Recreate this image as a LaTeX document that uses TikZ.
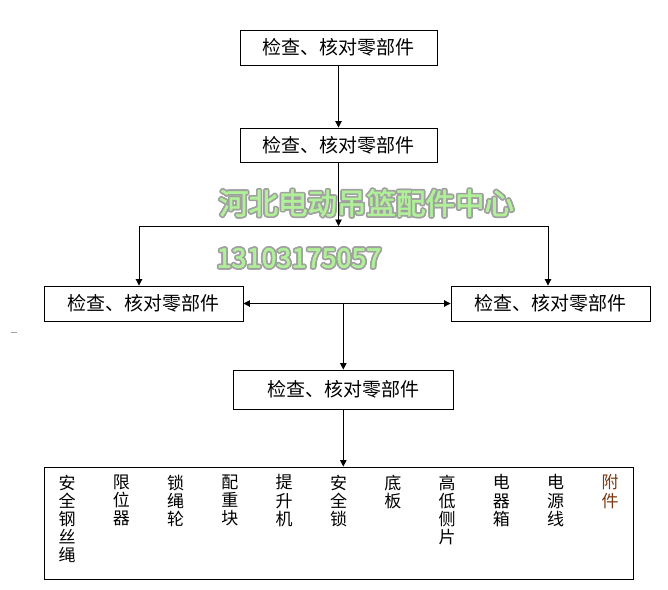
\documentclass[tikz,border=0pt]{standalone}
\usepackage{fontspec}
\setmainfont{Noto Sans CJK SC}
\newfontfamily\wmfont[FakeBold=2]{Noto Sans CJK SC}
\usetikzlibrary{arrows.meta}
\definecolor{wmgreen}{HTML}{B0F098}
\definecolor{wmgray}{HTML}{A0A0A0}
\definecolor{partbrown}{HTML}{7A3A12}
\begin{document}
\begin{tikzpicture}[x=1pt,y=-1pt,
        stepbox/.style={draw,line width=0.9pt,inner sep=0pt,font=\fontsize{19}{21}\selectfont},
        link/.style={line width=0.9pt,-{Triangle[length=6.5pt,width=6.5pt]}},
        partcol/.style={anchor=north,align=center,inner sep=0pt,font=\fontsize{17}{18.1}\selectfont},
        wmark/.style={inner sep=0pt,font=\wmfont\fontsize{29.5}{31}\selectfont}]
        \useasboundingbox (0,0) rectangle (668,589);
        %% watermark
        \foreach \a in {0,30,...,330} {
            \node[wmark,text=wmgray,shift={(\a:1.7pt)}] (wmhalo\a) at (366.5,203) {河北电动吊篮配件中心};
            \node[wmark,text=wmgray,shift={(\a:1.7pt)},font=\wmfont\fontsize{27}{29}\selectfont] (telhalo\a) at (299,258) {13103175057};
        }
        \node[wmark,text=wmgreen] (wmname) at (366.5,203) {河北电动吊篮配件中心};
        \node[wmark,text=wmgreen,font=\wmfont\fontsize{27}{29}\selectfont] (wmtel) at (299,258) {13103175057};
        %% stray mark
        \draw[wmgray,line width=0.6pt] (11,332.5) -- (17,332.5);
        %% boxes
        \node[stepbox,minimum width=197pt,minimum height=35pt] (check1) at (338.5,47.5) {检查、核对零部件};
        \node[stepbox,minimum width=197pt,minimum height=34pt] (check2) at (338.5,145) {检查、核对零部件};
        \node[stepbox,minimum width=199pt,minimum height=35pt] (checkL) at (143.5,303.5) {检查、核对零部件};
        \node[stepbox,minimum width=199pt,minimum height=35pt] (checkR) at (550.5,303.5) {检查、核对零部件};
        \node[stepbox,minimum width=220pt,minimum height=39pt] (check3) at (343.3,389.5) {检查、核对零部件};
        \node[draw,line width=0.9pt,minimum width=589pt,minimum height=112pt] (parts) at (338.5,523) {};
        %% parts
        \foreach \txt [count=\i from 0] in {安\\全\\钢\\丝\\绳,限\\位\\器,锁\\绳\\轮,配\\重\\块,提\\升\\机,安\\全\\锁,底\\板,高\\低\\侧\\片,电\\器\\箱,电\\源\\线}
            \node[partcol] (part\i) at (67+54.3*\i,474.5) {\txt};
        \node[partcol,text=partbrown] (part10) at (610,474.5) {附\\件};
        %% connectors
        \coordinate (split) at (338.5,226);
        \coordinate (splitL) at (139,226);
        \coordinate (splitR) at (548,226);
        \coordinate (hub) at (343.3,303.5);
        \draw[link] (check1) -- (check2);
        \draw[link] (check2) -- (split);
        \draw[line width=0.9pt] (splitL) -- (splitR);
        \draw[link] (splitL) -- (splitL |- checkL.north);
        \draw[link] (splitR) -- (splitR |- checkR.north);
        \draw[link,{Triangle[length=6.5pt,width=6.5pt]}-{Triangle[length=6.5pt,width=6.5pt]}] (checkL) -- (checkR);
        \draw[link] (hub) -- (check3);
        \draw[link] (check3.south) -- (check3.south |- parts.north);
    \end{tikzpicture}
\end{document}
